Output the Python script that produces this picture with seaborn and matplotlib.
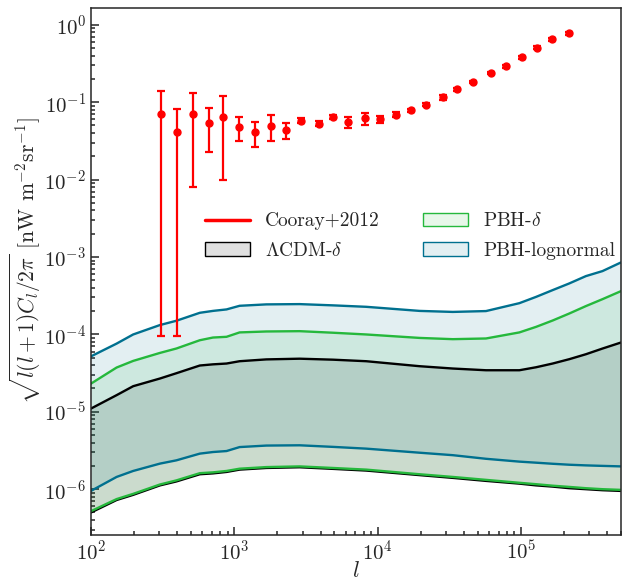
import numpy as np
import matplotlib
matplotlib.use('Agg')
import matplotlib.pyplot as plt
import seaborn as sns
from matplotlib.lines import Line2D
from matplotlib.patches import Patch
from matplotlib.colors import to_rgba
from matplotlib.ticker import LogLocator, NullFormatter

# Cooray+2012 fluctuation data
ell_data = [308, 397, 516, 671, 841, 1087, 1405, 1795, 2285, 2938, 3882, 4910,
            6250, 8114, 10330, 13550, 17180, 21730, 28710, 36090, 46430, 61650,
            78900, 101900, 129700, 165900, 215300]
cib = [0.0706, 0.0409, 0.070, 0.054, 0.0651, 0.0479, 0.0413, 0.0498, 0.0442,
       0.0573, 0.0529, 0.0651, 0.0556, 0.0621, 0.0608, 0.069, 0.078, 0.093,
       0.116, 0.147, 0.183, 0.237, 0.289, 0.382, 0.504, 0.646, 0.773]
cib_hi = [0.140, 0.0819, 0.132, 0.0844, 0.1217, 0.0646, 0.0551, 0.0691, 0.054,
          0.062, 0.057, 0.069, 0.065, 0.0728, 0.067, 0.074, 0.082, 0.098,
          0.124, 0.153, 0.19, 0.246, 0.30, 0.40, 0.53, 0.67, 0.80]
cib_lo = [9.5e-5, 9.5e-5, 0.0081, 0.023, 0.00997, 0.0319, 0.0267, 0.0319, 0.0335,
          0.053, 0.049, 0.061, 0.046, 0.0513, 0.054, 0.064, 0.074, 0.088,
          0.108, 0.141, 0.176, 0.228, 0.278, 0.364, 0.48, 0.62, 0.745]

# model bands (upper / lower edges)
ell_model = [100, 151, 197, 303, 395, 575, 710, 883, 1090, 1675, 2860, 4890,
             8340, 19630, 33500, 57100, 97700, 127700, 166700, 217800, 284600,
             371500, 500000]
lcdm_hi = [1.10e-5, 1.64e-5, 2.14e-5, 2.69e-5, 3.15e-5, 3.96e-5, 4.1e-5, 4.2e-5,
           4.5e-5, 4.75e-5, 4.85e-5, 4.71e-5, 4.5e-5, 3.88e-5, 3.62e-5, 3.44e-5,
           3.44e-5, 3.76e-5, 4.2e-5, 4.78e-5, 5.54e-5, 6.56e-5, 7.85e-5]
lcdm_lo = [5.0e-7, 7.25e-7, 8.45e-7, 1.12e-6, 1.26e-6, 1.56e-6, 1.6e-6, 1.67e-6,
           1.79e-6, 1.88e-6, 1.92e-6, 1.83e-6, 1.74e-6, 1.52e-6, 1.40e-6, 1.28e-6,
           1.18e-6, 1.12e-6, 1.08e-6, 1.03e-6, 1.0e-6, 9.7e-7, 9.5e-7]
pbh_hi = [2.31e-5, 3.73e-5, 4.54e-5, 5.76e-5, 6.57e-5, 8.4e-5, 9.1e-5, 9.3e-5,
          1.06e-4, 1.09e-4, 1.10e-4, 1.05e-4, 9.97e-5, 9.0e-5, 8.67e-5, 8.85e-5,
          1.06e-4, 1.25e-4, 1.51e-4, 1.86e-4, 2.32e-4, 2.85e-4, 3.62e-4]
pbh_lo = [5.2e-7, 7.45e-7, 8.7e-7, 1.15e-6, 1.30e-6, 1.61e-6, 1.65e-6, 1.72e-6,
          1.84e-6, 1.93e-6, 1.97e-6, 1.88e-6, 1.79e-6, 1.56e-6, 1.44e-6, 1.32e-6,
          1.21e-6, 1.16e-6, 1.11e-6, 1.07e-6, 1.03e-6, 1.0e-6, 9.8e-7]
logn_hi = [5.2e-5, 7.6e-5, 9.97e-5, 1.32e-4, 1.50e-4, 1.90e-4, 2.01e-4, 2.10e-4,
           2.34e-4, 2.44e-4, 2.46e-4, 2.37e-4, 2.27e-4, 2.01e-4, 1.95e-4, 2.0e-4,
           2.53e-4, 3.05e-4, 3.73e-4, 4.55e-4, 5.66e-4, 6.57e-4, 8.5e-4]
logn_lo = [9.5e-7, 1.44e-6, 1.72e-6, 2.14e-6, 2.36e-6, 2.88e-6, 3.02e-6, 3.11e-6,
           3.5e-6, 3.66e-6, 3.69e-6, 3.52e-6, 3.34e-6, 2.96e-6, 2.75e-6, 2.47e-6,
           2.27e-6, 2.2e-6, 2.13e-6, 2.07e-6, 2.03e-6, 2.0e-6, 1.97e-6]

c_lcdm = 'black'
c_pbh = '#25b83c'
c_logn = '#00708f'
alpha = 0.11

sns.set_style('ticks')
plt.rcParams.update({
    'font.family': 'serif',
    'font.serif': ['cmr10'],
    'mathtext.fontset': 'cm',
    'axes.formatter.use_mathtext': True,
    'axes.linewidth': 1.1,
})

fig = plt.figure(figsize=(6.3, 5.79), dpi=100)
ax = fig.add_axes([0.1444, 0.076, 0.8413, 0.910])
ax.set_xscale('log')
ax.set_yscale('log')

ax.fill_between(ell_model, lcdm_lo, lcdm_hi, color=c_lcdm, alpha=0.12, lw=0)
ax.fill_between(ell_model, pbh_lo, pbh_hi, color=c_pbh, alpha=alpha, lw=0)
ax.fill_between(ell_model, logn_lo, logn_hi, color=c_logn, alpha=alpha, lw=0)

for lo, hi, c in [(lcdm_lo, lcdm_hi, c_lcdm), (pbh_lo, pbh_hi, c_pbh), (logn_lo, logn_hi, c_logn)]:
    sns.lineplot(x=ell_model, y=hi, color=c, lw=1.7, ax=ax)
    sns.lineplot(x=ell_model, y=lo, color=c, lw=1.7, ax=ax)

cib_a = np.array(cib)
yerr = [cib_a - np.array(cib_lo), np.array(cib_hi) - cib_a]
ax.errorbar(ell_data, cib, yerr=yerr, fmt='o', color='red', ms=5, elinewidth=1.6,
            capsize=3, capthick=1.6, zorder=10)

ax.set_xlim(100, 5e5)
ax.set_ylim(2.56e-7, 1.64)

ax.set_yticks([1e-6, 1e-5, 1e-4, 1e-3, 1e-2, 1e-1, 1])
ax.yaxis.set_minor_locator(LogLocator(base=10, subs=np.arange(2, 10), numticks=20))
ax.yaxis.set_minor_formatter(NullFormatter())
ax.tick_params(which='both', direction='in', top=False, right=False, width=1.1,
               labelsize=15)
ax.tick_params(which='major', length=6)
ax.tick_params(which='minor', length=3)

ax.set_xlabel(r'$l$', fontsize=16, labelpad=-2)
ax.set_ylabel(r'$\sqrt{l(l+1)C_l/2\pi}$ [nW m$^{-2}$sr$^{-1}$]', fontsize=15.5)
ax.yaxis.set_label_coords(-0.09, 0.52)

handles = [
    Line2D([], [], color='red', lw=2.5),
    Patch(facecolor=to_rgba(c_lcdm, 0.12), edgecolor=c_lcdm),
    Patch(facecolor=to_rgba(c_pbh, alpha), edgecolor=c_pbh),
    Patch(facecolor=to_rgba(c_logn, alpha), edgecolor=c_logn),
]
labels = ['Cooray+2012', r'$\Lambda$CDM-$\delta$', r'PBH-$\delta$', 'PBH-lognormal']
ax.legend(handles, labels, ncol=2, frameon=False, fontsize=14, loc='center',
          handlelength=2.3, columnspacing=2.2, labelspacing=0.6,
          bbox_to_anchor=(0.602, 0.567))

fig.savefig('out.png', dpi=100)
